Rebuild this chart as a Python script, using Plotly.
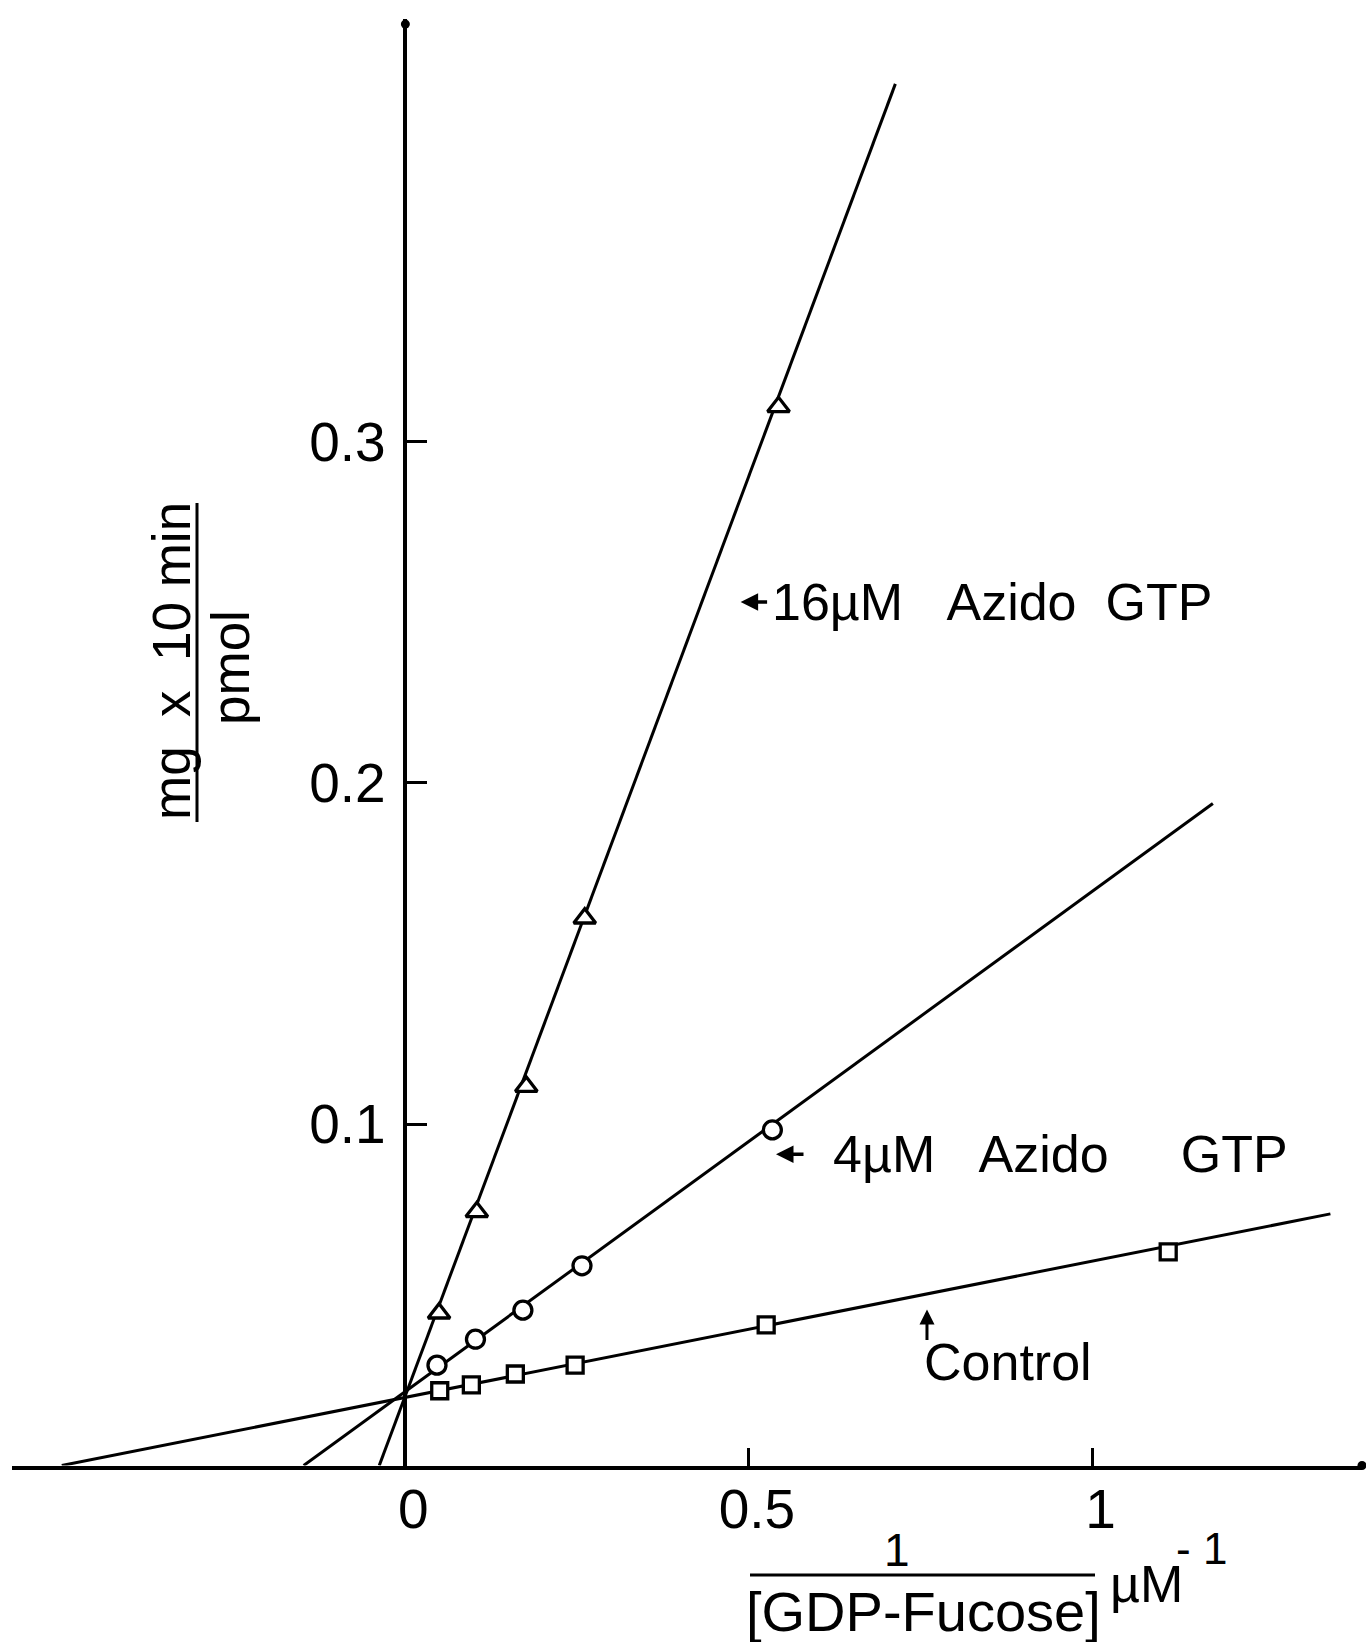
import plotly.graph_objects as go

# Double-reciprocal (Lineweaver-Burk) plot: 1/[GDP-fucose] vs 1/v
# x: 1/[GDP-Fucose] (uM^-1); y: mg x 10 min / pmol

control_x = [0.050, 0.096, 0.160, 0.247, 0.525, 1.110]
control_y = [0.0219, 0.0236, 0.0268, 0.0294, 0.0412, 0.0626]

azido4_x = [0.046, 0.102, 0.171, 0.257, 0.534]
azido4_y = [0.0294, 0.0370, 0.0455, 0.0585, 0.0983]

azido16_x = [0.049, 0.104, 0.176, 0.261, 0.543]
azido16_y = [0.0446, 0.0743, 0.1110, 0.1603, 0.3101]

# fitted lines, drawn from the x-intercept up to their end points
control_fit_x = [-0.50, 1.346]
control_fit_y = [0.0, 0.0737]
azido4_fit_x = [-0.148, 1.175]
azido4_fit_y = [0.0, 0.1939]
azido16_fit_x = [-0.038, 0.713]
azido16_fit_y = [0.0, 0.4047]

x_ticks = [0, 0.5, 1]
x_tick_labels = ["0", "0.5", "1"]
y_ticks = [0.1, 0.2, 0.3]
y_tick_labels = ["0.1", "0.2", "0.3"]

x_range = [-0.5724, 1.3920]
y_range = [0.0, 0.4237]

W, H = 1366, 1642
FONT = "Liberation Sans, Arial, Helvetica, sans-serif"
INK = "black"
NB = "\u00a0"


def px(x):
    return x / W


def py(y):
    return 1 - y / H


fig = go.Figure()

# regression lines first so the open markers sit on top of them
for fx, fy in [(control_fit_x, control_fit_y),
               (azido4_fit_x, azido4_fit_y),
               (azido16_fit_x, azido16_fit_y)]:
    fig.add_trace(go.Scatter(x=fx, y=fy, mode="lines",
                             line=dict(color=INK, width=3),
                             hoverinfo="skip"))

fig.add_trace(go.Scatter(x=control_x, y=control_y, mode="markers",
                         marker=dict(symbol="square", size=16, color="white",
                                     line=dict(color=INK, width=3.3)),
                         cliponaxis=False, name="Control"))
fig.add_trace(go.Scatter(x=azido4_x, y=azido4_y, mode="markers",
                         marker=dict(symbol="circle", size=18, color="white",
                                     line=dict(color=INK, width=3.3)),
                         cliponaxis=False, name="4 uM Azido GTP"))
fig.add_trace(go.Scatter(x=azido16_x, y=azido16_y, mode="markers",
                         marker=dict(symbol="triangle-up", size=19, color="white",
                                     line=dict(color=INK, width=3.3)),
                         cliponaxis=False, name="16 uM Azido GTP"))

# small blobs at the ends of the hand-drawn axes
fig.add_trace(go.Scatter(x=[0, x_range[1]], y=[y_range[1] - 0.0015, 0],
                         mode="markers",
                         marker=dict(symbol="circle", size=9, color=INK),
                         cliponaxis=False, hoverinfo="skip"))

annotations = []

# series labels with their pointer arrows
label_font = dict(family=FONT, size=52, color=INK)
annotations += [
    dict(x=0.5306, y=0.2529, xref="x", yref="y",
         text="16µM" + NB * 3 + "Azido" + NB * 2 + "GTP",
         xanchor="left", yanchor="middle", showarrow=False, font=label_font),
    dict(x=0.4878, y=0.2529, xref="x", yref="y", text="", showarrow=True,
         ax=28, ay=0, arrowhead=2, arrowsize=1, arrowwidth=3.5, arrowcolor=INK),
    dict(x=0.6189, y=0.0912, xref="x", yref="y",
         text="4µM" + NB * 3 + "Azido" + NB * 5 + "GTP",
         xanchor="left", yanchor="middle", showarrow=False, font=label_font),
    dict(x=0.5393, y=0.0912, xref="x", yref="y", text="", showarrow=True,
         ax=29, ay=0, arrowhead=2, arrowsize=1, arrowwidth=3.5, arrowcolor=INK),
    dict(x=0.7518, y=0.0303, xref="x", yref="y", text="Control",
         xanchor="left", yanchor="middle", showarrow=False, font=label_font),
    dict(x=0.759, y=0.0457, xref="x", yref="y", text="", showarrow=True,
         ax=0, ay=32, arrowhead=2, arrowsize=1, arrowwidth=3, arrowcolor=INK),
]

# y-axis title written as a fraction
title_font = dict(family=FONT, size=53, color=INK)
annotations += [
    dict(x=px(171), y=py(661), xref="paper", yref="paper",
         text="mg" + NB * 2 + "x" + NB * 2 + "10" + NB + "min", textangle=-90,
         xanchor="center", yanchor="middle", showarrow=False, font=title_font),
    dict(x=px(230), y=py(668), xref="paper", yref="paper",
         text="pmol", textangle=-90,
         xanchor="center", yanchor="middle", showarrow=False, font=title_font),
]

# x-axis title: 1 / [GDP-Fucose]  uM^-1
annotations += [
    dict(x=px(897), y=py(1550), xref="paper", yref="paper", text="1",
         xanchor="center", yanchor="middle", showarrow=False,
         font=dict(family=FONT, size=46, color=INK)),
    dict(x=px(923), y=py(1611), xref="paper", yref="paper", text="[GDP-Fucose]",
         xanchor="center", yanchor="middle", showarrow=False,
         font=dict(family=FONT, size=56, color=INK)),
    dict(x=px(1108), y=py(1584), xref="paper", yref="paper", text="µM",
         xanchor="left", yanchor="middle", showarrow=False,
         font=dict(family=FONT, size=52, color=INK)),
    dict(x=px(1174), y=py(1548), xref="paper", yref="paper", text="-" + NB + "1",
         xanchor="left", yanchor="middle", showarrow=False,
         font=dict(family=FONT, size=44, color=INK)),
]

shapes = [
    dict(type="line", xref="paper", yref="paper",
         x0=px(197), x1=px(197), y0=py(822), y1=py(503),
         line=dict(color=INK, width=3)),
    dict(type="line", xref="paper", yref="paper",
         x0=px(750), x1=px(1095), y0=py(1575), y1=py(1575),
         line=dict(color=INK, width=3)),
]

tick_font = dict(family=FONT, size=55, color=INK)

fig.update_layout(
    width=W, height=H,
    margin=dict(l=0, r=0, t=0, b=0, pad=0),
    paper_bgcolor="white", plot_bgcolor="white",
    showlegend=False, hovermode=False,
    xaxis=dict(domain=[px(12), px(1362)], range=x_range,
               showline=True, linecolor=INK, linewidth=3.5,
               ticks="inside", ticklen=18, tickwidth=3, tickcolor=INK,
               tickvals=x_ticks, ticktext=x_tick_labels, tickfont=tick_font,
               ticklabelstandoff=-7, ticklabelshift=8,
               showgrid=False, zeroline=False, automargin=False),
    yaxis=dict(domain=[py(1465.5), py(19)], range=y_range,
               anchor="free", position=px(405.4),
               showline=True, linecolor=INK, linewidth=3.5,
               ticks="inside", ticklen=20, tickwidth=3, tickcolor=INK,
               tickvals=y_ticks, ticktext=y_tick_labels, tickfont=tick_font,
               ticklabelstandoff=7,
               showgrid=False, zeroline=False, automargin=False),
    annotations=annotations,
    shapes=shapes,
)

fig.write_html("out.html")
